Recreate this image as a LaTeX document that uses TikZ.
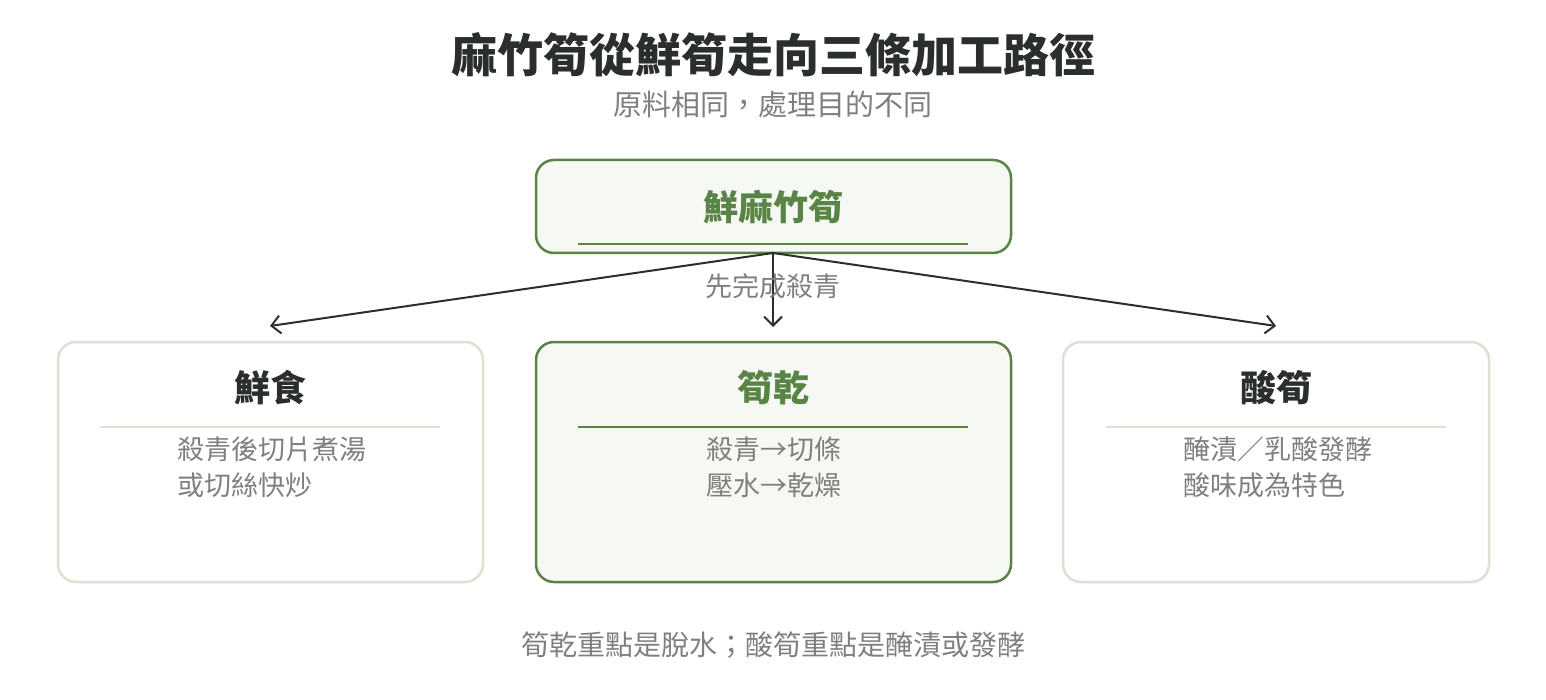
\documentclass[tikz,border=0pt]{standalone}
\usepackage{fontspec}
\setmainfont{Noto Sans CJK TC}
\usetikzlibrary{arrows.meta}
\definecolor{gdark}{HTML}{5A8446}
\definecolor{glight}{HTML}{D8E3D2}
\definecolor{gfill}{HTML}{F6F8F3}
\definecolor{txt}{HTML}{2B2F2B}
\definecolor{gray}{HTML}{7E807E}
\begin{document}
\begin{tikzpicture}[x=1pt,y=-1pt,
 box/.style={rounded corners=18pt,line width=2.5pt},
 hd/.style={font=\fontsize{36}{42}\selectfont\bfseries},
 bd/.style={font=\fontsize{27}{36}\selectfont,text=gray,align=left,anchor=north west},
 arr/.style={line width=2pt,draw=txt,-{Straight Barb[length=9pt,width=18pt]}}]
\useasboundingbox (0,0) rectangle (1546,700);
\node[font=\fontsize{46}{52}\selectfont\bfseries,text=txt] (t) at (773,55) {麻竹筍從鮮筍走向三條加工路徑};
\node[font=\fontsize{29}{34}\selectfont,text=gray] (st) at (773,104) {原料相同，處理目的不同};
% top
\draw[box,draw=gdark,fill=gfill] (536,160) rectangle (1011,253);
\node[hd,font=\fontsize{35}{42}\selectfont\bfseries,text=gdark] (top) at (773,207) {鮮麻竹筍};
\draw[gdark,line width=2.5pt] (578,244) -- (968,244);
\coordinate (src) at (773,253);
\coordinate (e1) at (270,326);
\coordinate (e2) at (773,327);
\coordinate (e3) at (1276,326);
\draw[arr] (src) -- (e1);
\draw[arr] (src) -- (e2);
\draw[arr] (src) -- (e3);
\node[font=\fontsize{27}{30}\selectfont,text=gray] (lab) at (773,286) {先完成殺青};
% left
\draw[box,draw=glight,fill=white] (58,342) rectangle (483,582);
\node[hd,text=txt] (l) at (270,388) {鮮食};
\draw[glight,line width=2.5pt] (100,427) -- (440,427);
\node[bd] (lt) at (174,433) {殺青後切片煮湯\\或切絲快炒};
% middle
\draw[box,draw=gdark,fill=gfill] (536,342) rectangle (1011,582);
\node[hd,text=gdark] (m) at (773,388) {筍乾};
\draw[gdark,line width=2.5pt] (578,427) -- (968,427);
\node[bd] (mt) at (703,433) {殺青→切條\\壓水→乾燥};
% right
\draw[box,draw=glight,fill=white] (1063,342) rectangle (1489,582);
\node[hd,text=txt] (r) at (1276,388) {酸筍};
\draw[glight,line width=2.5pt] (1106,427) -- (1446,427);
\node[bd] (rt) at (1180,433) {醃漬／乳酸發酵\\酸味成為特色};
\node[font=\fontsize{28}{32}\selectfont,text=gray] (n) at (773,645) {筍乾重點是脫水；酸筍重點是醃漬或發酵};
\end{tikzpicture}
\end{document}
